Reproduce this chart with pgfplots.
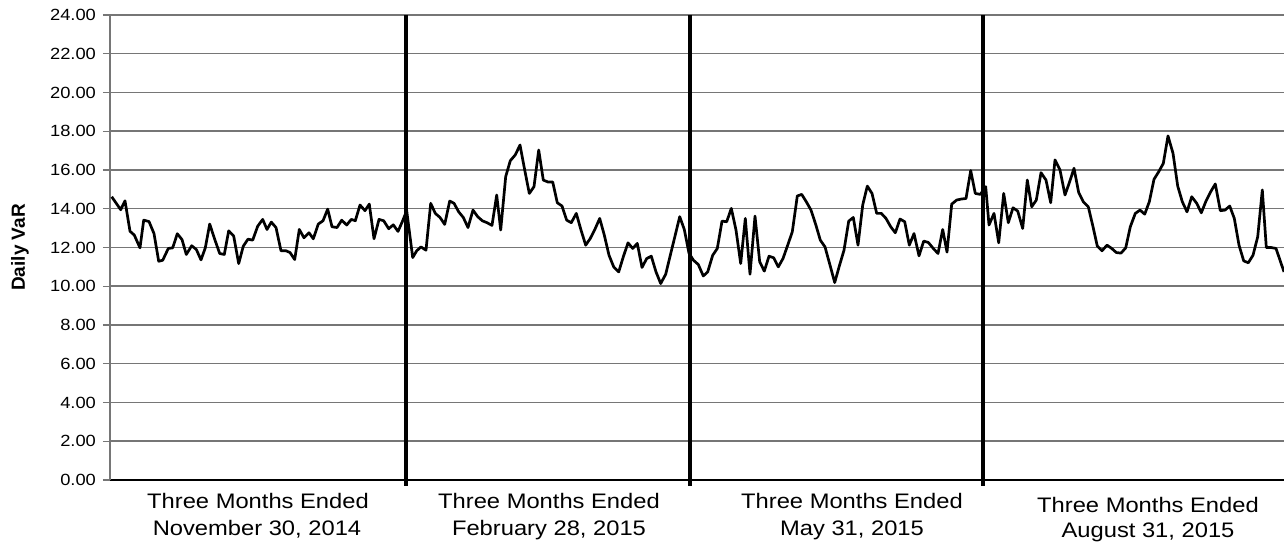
\documentclass[border=0pt]{standalone}
\usepackage{pgfplots}
\pgfplotsset{compat=1.18}
\usepackage{fontspec}
\setmainfont{Liberation Sans}[FakeStretch=1.13]
\newfontfamily\plainsf{Liberation Sans}
\definecolor{gridgray}{RGB}{118,118,118}

\begin{document}
\begin{tikzpicture}
\begin{axis}[
    name=ax,
    scale only axis,
    width=587pt, height=232.5pt,
    xmin=110, xmax=1284,
    ymin=0, ymax=24,
    ytick={0,2,...,24},
    xtick=\empty,
    axis x line*=bottom,
    axis y line*=left,
    x axis line style={black, line width=0.8pt},
    y axis line style={gridgray, line width=0.8pt},
    ymajorgrids,
    grid style={gridgray, line width=0.75pt},
    tick align=outside,
    major tick length=3.5pt,
    tick style={gridgray, line width=0.6pt},
    yticklabel style={font=\fontsize{8.1}{9}\selectfont, text=black},
    /pgf/number format/.cd, fixed, fixed zerofill, precision=2, assume math mode=true,
    /pgfplots/.cd,
    clip=false,
]
\addplot[black, line width=1.35pt, line join=round] coordinates {
(111.7,14.62) (120.7,13.95) (125.0,14.41) (130.0,12.84) (134.3,12.64)
(140.0,11.98) (143.7,13.41) (149.0,13.34) (154.0,12.72) (158.7,11.29)
(162.7,11.34) (168.3,11.95) (172.7,11.98) (177.3,12.71) (182.0,12.41)
(186.3,11.64) (191.7,12.09) (196.3,11.90) (201.0,11.36) (205.3,11.98)
(209.7,13.21) (215.0,12.38) (219.7,11.69) (224.3,11.64) (228.7,12.86)
(233.7,12.59) (238.7,11.17) (243.3,12.07) (248.0,12.43) (252.7,12.38)
(257.7,13.10) (262.7,13.45) (267.0,12.93) (271.3,13.31) (276.0,13.03)
(281.0,11.83) (286.0,11.83) (290.0,11.74) (294.7,11.38) (299.3,12.93)
(304.0,12.50) (309.0,12.76) (313.3,12.45) (318.3,13.21) (323.0,13.38)
(327.7,13.98) (332.0,13.07) (337.0,13.03) (341.7,13.41) (346.7,13.16)
(351.3,13.45) (355.3,13.38) (360.0,14.19) (365.0,13.90) (369.3,14.24)
(374.0,12.45) (379.0,13.45) (383.7,13.38) (388.7,12.97) (393.3,13.17)
(398.0,12.83) (402.7,13.38)
(406.7,13.90) (412.7,11.48) (416.7,11.83) (421.0,12.03) (426.0,11.86)
(430.7,14.28) (435.3,13.76) (440.0,13.55) (444.7,13.19) (449.7,14.40)
(454.0,14.28) (458.7,13.84) (463.3,13.55) (468.0,13.03) (473.0,13.93)
(477.7,13.59) (482.3,13.38) (487.0,13.28) (492.0,13.14) (496.7,14.71)
(500.7,12.90) (505.7,15.66) (510.3,16.48) (515.3,16.78) (520.0,17.29)
(524.7,16.00) (529.3,14.79) (534.0,15.14) (538.7,17.03) (543.3,15.48)
(548.0,15.38) (552.7,15.38) (557.3,14.31) (562.0,14.14) (566.7,13.41)
(571.3,13.28) (576.3,13.76) (581.0,12.90) (585.7,12.12) (590.3,12.47)
(595.0,12.95) (599.7,13.50) (604.3,12.64) (609.0,11.60) (613.7,11.00)
(618.7,10.74) (623.3,11.52) (628.0,12.24) (632.7,11.95) (637.3,12.21)
(642.0,10.97) (646.7,11.43) (651.3,11.55) (656.0,10.74) (660.7,10.14)
(665.7,10.62) (670.3,11.60) (675.0,12.59) (679.7,13.59) (684.3,12.93)
(689.0,11.70) (693.5,11.34) (698.3,11.12) (703.3,10.53) (707.7,10.74)
(712.7,11.60) (717.3,11.95) (722.0,13.36) (726.7,13.33) (731.3,14.02)
(736.0,12.90) (740.7,11.17) (745.3,13.50) (750.0,10.62) (755.0,13.62)
(759.7,11.26) (764.3,10.78) (769.0,11.55) (773.7,11.47) (778.3,11.00)
(783.0,11.43) (787.7,12.12) (792.3,12.81) (797.3,14.66) (801.7,14.74)
(806.3,14.36) (811.0,13.93) (815.7,13.19) (820.3,12.38) (825.0,12.03)
(830.0,11.09) (834.7,10.19) (839.3,11.04) (844.0,11.86) (848.7,13.36)
(853.3,13.55) (858.0,12.12) (862.7,14.19) (867.3,15.17) (872.0,14.79)
(876.7,13.76) (881.3,13.76) (886.0,13.50) (890.7,13.07) (895.3,12.76)
(900.0,13.47) (904.7,13.33) (909.3,12.12) (914.0,12.72) (919.0,11.57)
(923.7,12.33) (928.3,12.26) (933.3,11.95) (938.0,11.69) (942.7,12.93)
(947.0,11.76) (951.7,14.24) (956.7,14.45) (961.3,14.50) (966.0,14.53)
(970.7,15.97) (975.3,14.79) (980.3,14.74)
(985.7,15.14) (989.0,13.16) (994.0,13.76) (998.7,12.24) (1003.7,14.79)
(1008.3,13.28) (1013.0,14.05) (1017.7,13.88) (1022.7,12.98) (1027.3,15.48)
(1031.7,14.10) (1036.3,14.45) (1041.0,15.86) (1046.0,15.48) (1050.7,14.31)
(1055.0,16.52) (1060.0,16.00) (1065.0,14.71) (1069.7,15.40) (1074.0,16.09)
(1078.7,14.83) (1083.3,14.36) (1088.3,14.10) (1093.0,13.07) (1097.3,12.07)
(1102.0,11.83) (1107.0,12.12) (1111.7,11.95) (1116.3,11.74) (1121.0,11.71)
(1125.7,11.98) (1130.3,13.07) (1135.3,13.76) (1140.0,13.93) (1144.7,13.72)
(1149.3,14.36) (1154.0,15.52) (1158.7,15.91) (1163.3,16.34) (1168.0,17.76)
(1173.0,16.86) (1177.7,15.17) (1182.3,14.36) (1187.0,13.84) (1191.7,14.62)
(1196.7,14.28) (1201.3,13.79) (1206.0,14.40) (1210.7,14.88) (1215.3,15.28)
(1220.3,13.90) (1225.0,13.93) (1229.7,14.14) (1234.3,13.50) (1239.0,12.12)
(1243.7,11.31) (1248.3,11.21) (1253.0,11.60) (1257.7,12.55) (1262.3,14.97)
(1266.3,12.00) (1271.0,12.00) (1276.0,11.95) (1284.0,10.74)
};
% quarter separators
\draw[black, line width=2pt] (axis cs:405.5,24) -- (axis cs:405.5,-0.3);
\draw[black, line width=2pt] (axis cs:689.5,24) -- (axis cs:689.5,-0.3);
\draw[black, line width=2pt] (axis cs:983,24) -- (axis cs:983,-0.3);
% quarter labels
\node[anchor=base, font=\fontsize{10.5}{12}\selectfont] at (axis cs:258,0) [yshift=-14.5pt] {Three Months Ended};
\node[anchor=base, font=\fontsize{10.5}{12}\selectfont] at (axis cs:257,0) [yshift=-27.9pt] {November 30, 2014};
\node[anchor=base, font=\fontsize{10.5}{12}\selectfont] at (axis cs:549,0) [yshift=-14.5pt] {Three Months Ended};
\node[anchor=base, font=\fontsize{10.5}{12}\selectfont] at (axis cs:549,0) [yshift=-27.9pt] {February 28, 2015};
\node[anchor=base, font=\fontsize{10.5}{12}\selectfont] at (axis cs:852,0) [yshift=-14.5pt] {Three Months Ended};
\node[anchor=base, font=\fontsize{10.5}{12}\selectfont] at (axis cs:852,0) [yshift=-27.9pt] {May 31, 2015};
\node[anchor=base, font=\fontsize{10.5}{12}\selectfont] at (axis cs:1148,0) [yshift=-16.3pt] {Three Months Ended};
\node[anchor=base, font=\fontsize{10.5}{12}\selectfont] at (axis cs:1148,0) [yshift=-29pt] {August 31, 2015};
\end{axis}
\node[rotate=90, font=\plainsf\bfseries\fontsize{9.5}{11}\selectfont] at ([xshift=-45pt]ax.west) {Daily VaR};
\pgfresetboundingbox
\path[use as bounding box] ([xshift=-55pt,yshift=-32.5pt]ax.south west) rectangle ([yshift=7.5pt]ax.north east);
\end{tikzpicture}
\end{document}
